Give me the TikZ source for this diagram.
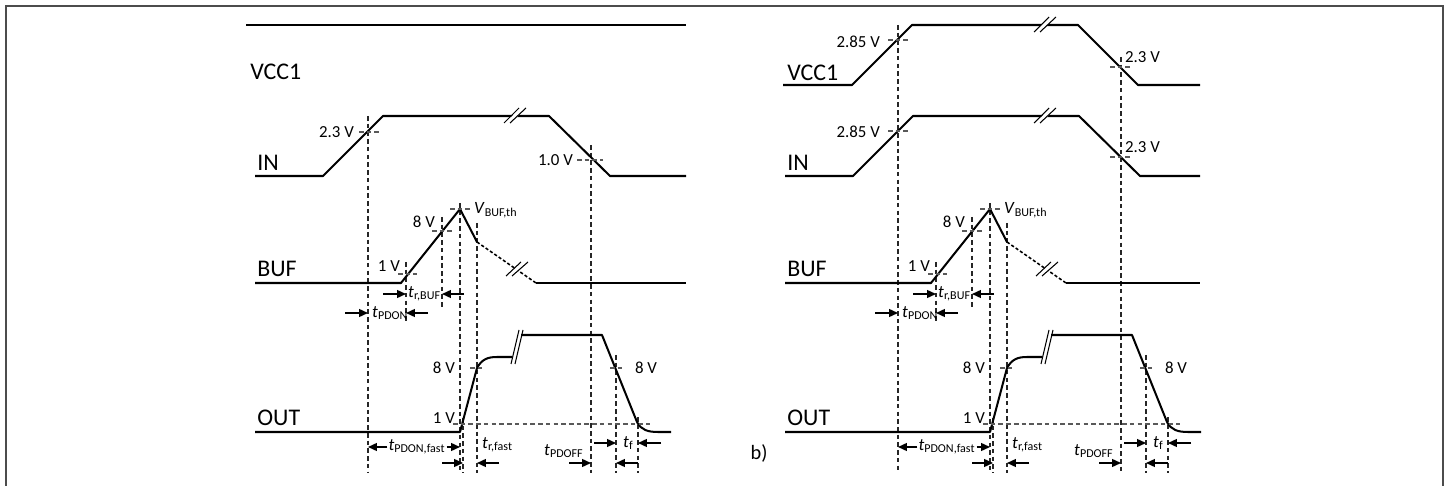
\documentclass[tikz,border=0pt]{standalone}
\usepackage{fontspec}
\setmainfont{Carlito}
\usetikzlibrary{positioning,arrows.meta}

\begin{document}
\begin{tikzpicture}[
    x=0.02cm, y=-0.02cm,
    wave/.style={line width=1.15pt, line join=round},
    guide/.style={black!85, line width=0.6pt, dash pattern=on 2.6pt off 1.8pt},
    cross/.style={black!65, line width=0.6pt, dash pattern=on 2.6pt off 1.8pt},
    brk/.style={line width=0.6pt},
    dim/.style={-{Triangle[length=5pt,width=4.4pt]}, line width=0.9pt},
    sigl/.style={anchor=west, inner sep=0pt, font=\fontsize{13.6}{15}\selectfont},
    val/.style={inner sep=1pt, font=\fontsize{9.6}{11}\selectfont},
    tlab/.style={inner sep=0.5pt, font=\fontsize{9.8}{11}\selectfont},
  ]
    \useasboundingbox (0,0) rectangle (1451,486);
    \draw[black!70, line width=0.8pt] (6,486) -- (6,6) -- (1443,6) -- (1443,486);

    % VCC1, left panel
    \draw[wave] (246,25) -- (686,25);
    \node[sigl] (vcca) at (250,72) {VCC1};

    % VCC1, right panel
    \draw[wave] (783,85) -- (852,85) -- (912,25) -- (1078,25) -- (1138,85) -- (1200,85);
    \fill[white] (1034,32) -- (1049,17) -- (1056,17) -- (1040,32) -- cycle;
    \draw[brk] (1034,32) -- (1049,17) (1040,32) -- (1056,17);
    \node[sigl] (vccb) at (787,73) {VCC1};

    % IN, BUF and OUT in both panels
    \foreach \dx/\xe/\ya/\yb/\p in {0/686/116/145/a, 530/670/25/57/b} {
      \begin{scope}[shift={(\dx,0)}]
        % guide lines
        \coordinate (g1\p) at (368,473);
        \coordinate (g2\p) at (406,322);
        \coordinate (g3\p) at (442,307);
        \coordinate (g4\p) at (460,473);
        \coordinate (g5\p) at (463,473);
        \coordinate (g6\p) at (477,473);
        \coordinate (g7\p) at (591,473);
        \coordinate (g8\p) at (616,473);
        \coordinate (g9\p) at (638,473);
        \draw[guide] (368,\ya) -- (g1\p);
        \draw[guide] (406,262) -- (g2\p);
        \draw[guide] (442,217) -- (g3\p);
        \draw[guide] (460,203) -- (g4\p);
        \draw[guide] (463,418) -- (g5\p);
        \draw[guide] (477,223) -- (g6\p);
        \draw[guide] (591,\yb) -- (g7\p);
        \draw[guide] (616,355) -- (g8\p);
        \draw[guide] (638,417) -- (g9\p);

        % IN
        \draw[wave] (255,176) -- (323,176) -- (383,116) -- (549,116) -- (610,176) -- (\xe,176);
        \fill[white] (505,123) -- (520,108) -- (526,108) -- (511,123) -- cycle;
        \draw[brk] (504,123) -- (519,108) (510,123) -- (526,108);
        \node[sigl] (in\p) at (257,163) {IN};

        % BUF
        \draw[wave] (255,283) -- (401,283) -- (460,209) -- (477,242);
        \draw[wave, line width=0.9pt, dash pattern=on 1.8pt off 1.2pt] (477,242) -- (536,283);
        \draw[wave] (536,283) -- (\xe,283);
        \fill[white] (506,276) -- (521,262) -- (528,262) -- (512,276) -- cycle;
        \draw[brk] (506,276) -- (521,262) (512,276) -- (528,262);
        \node[sigl] (buf\p) at (257,269) {BUF};
        \draw[cross] (398,274) -- (417,274) (432,231) -- (453,231) (450,209) -- (470,209);
        \node[val, anchor=east] (vb1\p) at (402,266) {1 V};
        \node[val, anchor=east] (vb8\p) at (437,222) {8 V};
        \node[tlab, anchor=west] (vth\p) at (473,210) {\textit{V}\textsubscript{BUF,th}};

        % OUT
        \draw[wave] (255,432) -- (460,432) -- (477,368)
          .. controls (482,359) and (488,357) .. (497,357) -- (512,357);
        \draw[wave] (521,335) -- (602,335) -- (637,422)
          .. controls (641,430) and (648,432) .. (658,432) -- (671,432);
        \draw[brk] (511,364) -- (519,330) (515,364) -- (523,330);
        \node[sigl] (out\p) at (257,418) {OUT};
        \draw[cross] (453,424) -- (650,424) (470,368) -- (485,368) (610,368) -- (623,368);
        \node[val, anchor=east] (vo1\p) at (457,418) {1 V};
        \node[val, anchor=east] (vo8\p) at (457,368) {8 V};
        \node[val, anchor=west] (vf8\p) at (633,368) {8 V};

        % timing labels
        \node[tlab, anchor=west] (tpdon\p)  at (371,313) {\textit{t}\textsubscript{PDON}};
        \node[tlab, anchor=west] (trbuf\p)  at (407,294) {\textit{t}\textsubscript{r,BUF}};
        \node[tlab] (tfast\p)  at (417,447) {\textit{t}\textsubscript{PDON,fast}};
        \node[tlab, anchor=west] (trfast\p) at (481,445) {\textit{t}\textsubscript{r,fast}};
        \node[tlab, anchor=west] (tpdoff\p) at (543,451) {\textit{t}\textsubscript{PDOFF}};
        \node[tlab, anchor=west] (tf\p)     at (622,443) {\textit{t}\textsubscript{f}};

        % arrows
        \draw[dim] (tpdon\p.west -| g1\p) ++(-23,0) -- (tpdon\p.west -| g1\p);
        \draw[dim] (tpdon\p.west -| g2\p) ++(22,0) -- (tpdon\p.west -| g2\p);
        \draw[dim] (trbuf\p.west -| g2\p) ++(-23,0) -- (trbuf\p.west -| g2\p);
        \draw[dim] (trbuf\p.west -| g3\p) ++(22,0) -- (trbuf\p.west -| g3\p);
        \draw[dim] (tfast\p.west) -- (tfast\p.west -| g1\p);
        \draw[dim] (tfast\p.east) -- (tfast\p.east -| g4\p);
        \draw[dim] (g5\p |- 0,463) ++(-21,0) -- (g5\p |- 0,463);
        \draw[dim] (g6\p |- 0,463) ++(22,0) -- (g6\p |- 0,463);
        \draw[dim] (g7\p |- 0,463) ++(-22,0) -- (g7\p |- 0,463);
        \draw[dim] (tf\p.west -| g8\p) ++(-22,0) -- (tf\p.west -| g8\p);
        \draw[dim] (tf\p.west -| g9\p) ++(23,0) -- (tf\p.west -| g9\p);
        \draw[dim] (g9\p |- 0,463) -- (g8\p |- 0,463);
      \end{scope}
    }

    % IN thresholds, left panel
    \draw[cross] (359,132) -- (380,132) (577,160) -- (603,160);
    \node[val, anchor=east] (ina23) at (356,132) {2.3 V};
    \node[val, anchor=east] (ina10) at (575,160) {1.0 V};

    % VCC1 and IN thresholds, right panel
    \draw[cross] (888,40) -- (908,40) (888,131) -- (908,131) (1110,67) -- (1131,67) (1110,157) -- (1131,157);
    \node[val, anchor=east] (vccb285) at (882,42) {2.85 V};
    \node[val, anchor=east] (inb285)  at (882,132) {2.85 V};
    \node[val, anchor=west] (vccb23)  at (1123,57) {2.3 V};
    \node[val, anchor=west] (inb23)   at (1123,147) {2.3 V};

    \node[font=\fontsize{11.6}{13}\selectfont] (bmark) at (759,453) {b)};
\end{tikzpicture}
\end{document}
